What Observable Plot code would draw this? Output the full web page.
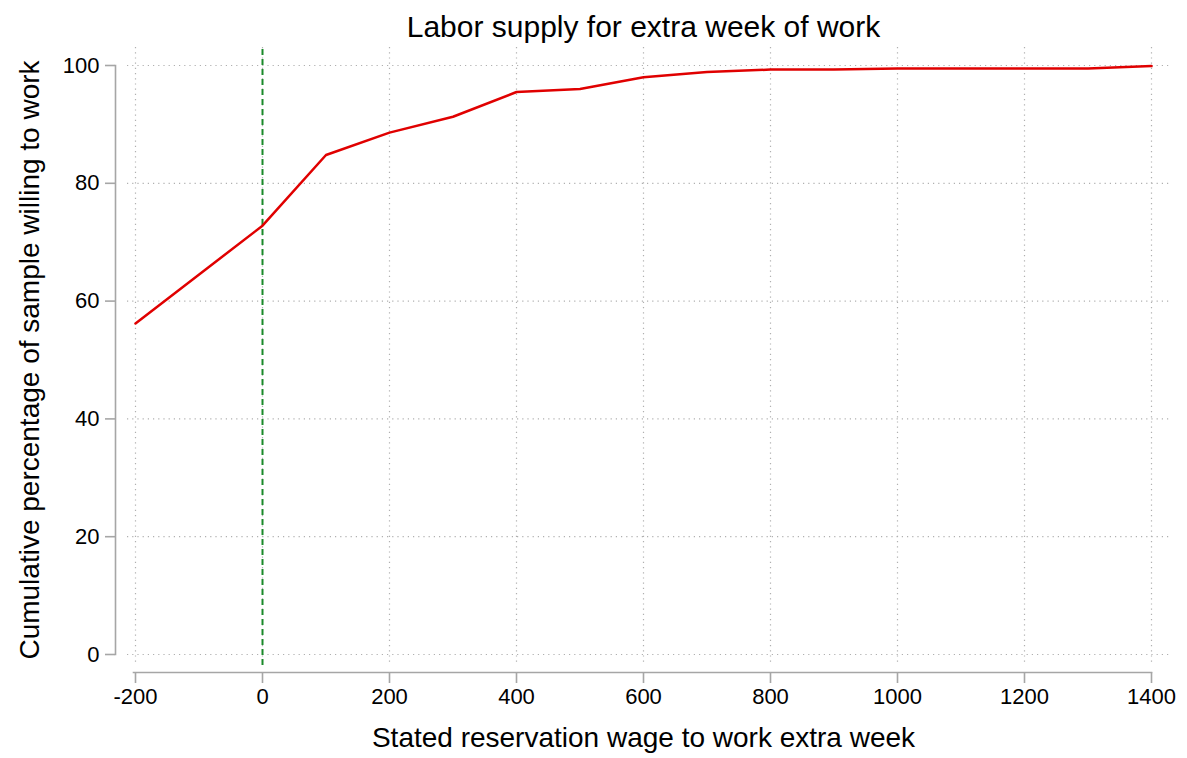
<!DOCTYPE html>
<html>
<head>
<meta charset="utf-8">
<script src="https://cdn.jsdelivr.net/npm/d3@7"></script>
<script src="https://cdn.jsdelivr.net/npm/@observablehq/plot@0.6"></script>
<style>
  html, body { margin: 0; padding: 0; background: #fff; }
  #chart svg { display: block; }
</style>
</head>
<body>
<div id="chart"></div>
<script>
const wage = [-200, 0, 100, 200, 300, 400, 500, 600, 700, 800, 900, 1000, 1100, 1200, 1300, 1400];
const cumPct = [56.2, 72.8, 84.8, 88.6, 91.3, 95.5, 96.0, 98.0, 98.9, 99.3, 99.3, 99.5, 99.5, 99.5, 99.5, 99.9];
const xTicks = [-200, 0, 200, 400, 600, 800, 1000, 1200, 1400];
const yTicks = [0, 20, 40, 60, 80, 100];
const refLine = [0];
const titleText = "Labor supply for extra week of work";
const xLabel = "Stated reservation wage to work extra week";
const yLabel = "Cumulative percentage of sample willing to work";

const data = wage.map((w, i) => ({wage: w, pct: cumPct[i]}));
const font = "'Liberation Sans', Arial, Helvetica, sans-serif";
const axisGray = "#a6a6a6";

const chart = Plot.plot({
  width: 1187,
  height: 758,
  marginLeft: 135,
  marginRight: 36,
  marginTop: 65,
  marginBottom: 104,
  style: {fontFamily: font, background: "#fff", color: "#000"},
  x: {domain: [-200, 1400], axis: null},
  y: {domain: [0, 100], axis: null},
  marks: [
    Plot.gridY(yTicks, {stroke: "#b0b0b0", strokeOpacity: 1, strokeWidth: 1.2, strokeDasharray: "1.2,4", insetLeft: -8, insetRight: -18}),
    Plot.gridX(xTicks, {stroke: "#b0b0b0", strokeOpacity: 1, strokeWidth: 1.2, strokeDasharray: "1.2,4", insetTop: -18, insetBottom: -11}),
    Plot.ruleX(refLine, {stroke: "#1a8a2a", strokeWidth: 2, strokeDasharray: "6,4", insetTop: -16, insetBottom: -11}),
    Plot.frame({anchor: "left", dx: -20, stroke: axisGray, strokeWidth: 1.6}),
    Plot.frame({anchor: "bottom", dy: 18, stroke: axisGray, strokeWidth: 1.6, insetLeft: -2}),
    Plot.axisY(yTicks, {anchor: "left", dx: -20, tickSize: 10, tickPadding: 6, stroke: axisGray, strokeWidth: 1.6, fontSize: 22, fill: "#000", label: null, tickFormat: d => String(d)}),
    Plot.axisX(xTicks, {anchor: "bottom", dy: 18, tickSize: 11, tickPadding: 5, stroke: axisGray, strokeWidth: 1.6, fontSize: 22, fill: "#000", label: null, tickFormat: d => String(d)}),
    Plot.line(data, {x: "wage", y: "pct", stroke: "#e00000", strokeWidth: 2.5}),
    Plot.text([titleText], {frameAnchor: "top", lineAnchor: "middle", dy: -38, fontSize: 30, fill: "#000", text: d => d}),
    Plot.text([xLabel], {frameAnchor: "bottom", lineAnchor: "middle", dy: 84, fontSize: 28, fill: "#000", text: d => d}),
    Plot.text([yLabel], {frameAnchor: "left", textAnchor: "middle", lineAnchor: "middle", dx: -105, rotate: -90, fontSize: 28, fill: "#000", text: d => d})
  ]
});
document.getElementById("chart").appendChild(chart);
</script>
</body>
</html>
